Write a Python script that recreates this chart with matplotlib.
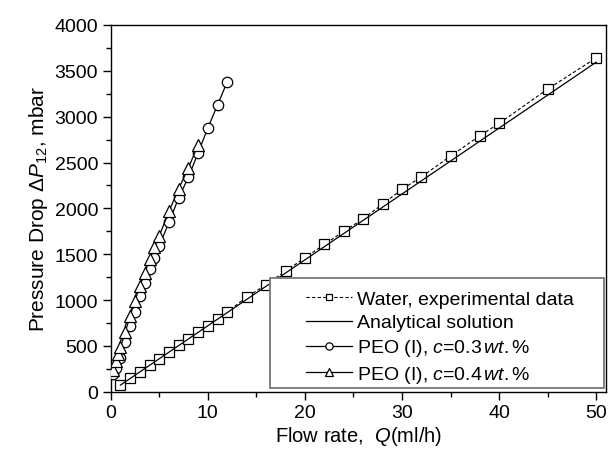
import matplotlib
matplotlib.use("Agg")
import matplotlib.pyplot as plt
from matplotlib.patches import Rectangle
from matplotlib.ticker import MultipleLocator

plt.rcParams["font.family"] = ["Liberation Sans", "DejaVu Sans"]
plt.rcParams["mathtext.fontset"] = "custom"
plt.rcParams["mathtext.rm"] = "Liberation Sans"
plt.rcParams["mathtext.it"] = "Liberation Sans:italic"

# water, experimental data (flow rate ml/h, pressure drop mbar)
water_q = [1, 2, 3, 4, 5, 6, 7, 8, 9, 10, 11, 12, 14, 16, 18,
           20, 22, 24, 26, 28, 30, 32, 35, 38, 40, 45, 50]
water_dp = [73, 149, 218, 291, 360, 436, 506, 578, 651, 720, 790, 869, 1033, 1167, 1315,
            1461, 1607, 1749, 1887, 2047, 2207, 2345, 2570, 2792, 2927, 3301, 3642]
water_err = [10, 10, 10, 10, 10, 12, 12, 12, 12, 14, 14, 14, 16, 16, 18,
             20, 20, 22, 22, 24, 26, 26, 30, 32, 34, 38, 42]

# analytical solution
ana_q = [1, 50]
ana_dp = [72, 3595]

# PEO (I), c=0.3 wt.%
peo3_q = [0.25, 0.5, 1, 1.5, 2, 2.5, 3, 3.5, 4, 4.5, 5, 6, 7, 8, 9, 10, 11, 12]
peo3_dp = [190, 260, 370, 540, 715, 872, 1040, 1185, 1338, 1458, 1592, 1847, 2115, 2338,
           2606, 2876, 3127, 3381]

# PEO (I), c=0.4 wt.%
peo4_q = [0.25, 0.5, 0.75, 1, 1.5, 2, 2.5, 3, 3.5, 4, 4.5, 5, 6, 7, 8, 9]
peo4_dp = [240, 330, 411, 484, 650, 829, 992, 1156, 1291, 1447, 1575, 1701, 1967, 2215,
           2440, 2694]

fig = plt.figure(figsize=(6.1, 4.56), dpi=100)
ax = fig.add_axes([0.1815, 0.1388, 0.8119, 0.8042])

# water with error bars
ax.errorbar(water_q, water_dp, yerr=water_err, fmt="none", ecolor="black",
            elinewidth=0.6, capsize=2, capthick=0.6, zorder=2)
ax.plot(water_q, water_dp, color="black", linestyle=(0, (3, 2)), linewidth=0.8,
        marker="s", markersize=7, markerfacecolor="white", markeredgecolor="black",
        markeredgewidth=0.9, label="Water, experimental data", zorder=3)
ax.plot(ana_q, ana_dp, color="black", linewidth=0.9, label="Analytical solution", zorder=4)
ax.plot(peo3_q, peo3_dp, color="black", linewidth=0.9, marker="o", markersize=7.5,
        markerfacecolor="white", markeredgecolor="black", markeredgewidth=0.9,
        label=r"PEO (I), $c$=0.3$\,wt.$%", zorder=3)
ax.plot(peo4_q, peo4_dp, color="black", linewidth=0.9, marker="^", markersize=8,
        markerfacecolor="white", markeredgecolor="black", markeredgewidth=0.9,
        label=r"PEO (I), $c$=0.4$\,wt.$%", zorder=3)

ax.set_xlim(0, 51)
ax.set_ylim(0, 4000)
ax.xaxis.set_major_locator(MultipleLocator(10))
ax.xaxis.set_minor_locator(MultipleLocator(5))
ax.yaxis.set_major_locator(MultipleLocator(500))
ax.yaxis.set_minor_locator(MultipleLocator(250))
ax.tick_params(which="both", direction="out", top=False, right=False, labelsize=14)
ax.tick_params(which="major", length=6, width=1, pad=3)
ax.tick_params(which="minor", length=3.5, width=1)
for sp in ax.spines.values():
    sp.set_linewidth(1)

ax.set_xlabel(r"Flow rate,  $Q($ml/h)", fontsize=14.5, labelpad=2)
ax.set_ylabel(r"Pressure Drop $\Delta P_{12}$, mbar", fontsize=15, labelpad=3)

# legend box drawn separately (wider than the entries, as in the original)
ax.add_patch(Rectangle((0.3216, 0.010), 0.6744, 0.300, transform=ax.transAxes,
                       facecolor="white", edgecolor="#777777", linewidth=1.3, zorder=5))
leg = ax.legend(loc="center left", bbox_to_anchor=(0.394, 0.147), fontsize=14,
                frameon=False, handlelength=2.35, handletextpad=0.3, borderaxespad=0,
                labelspacing=0.3, borderpad=0, markerscale=0.7)
leg.set_zorder(6)

fig.savefig("out.png", dpi=100)
